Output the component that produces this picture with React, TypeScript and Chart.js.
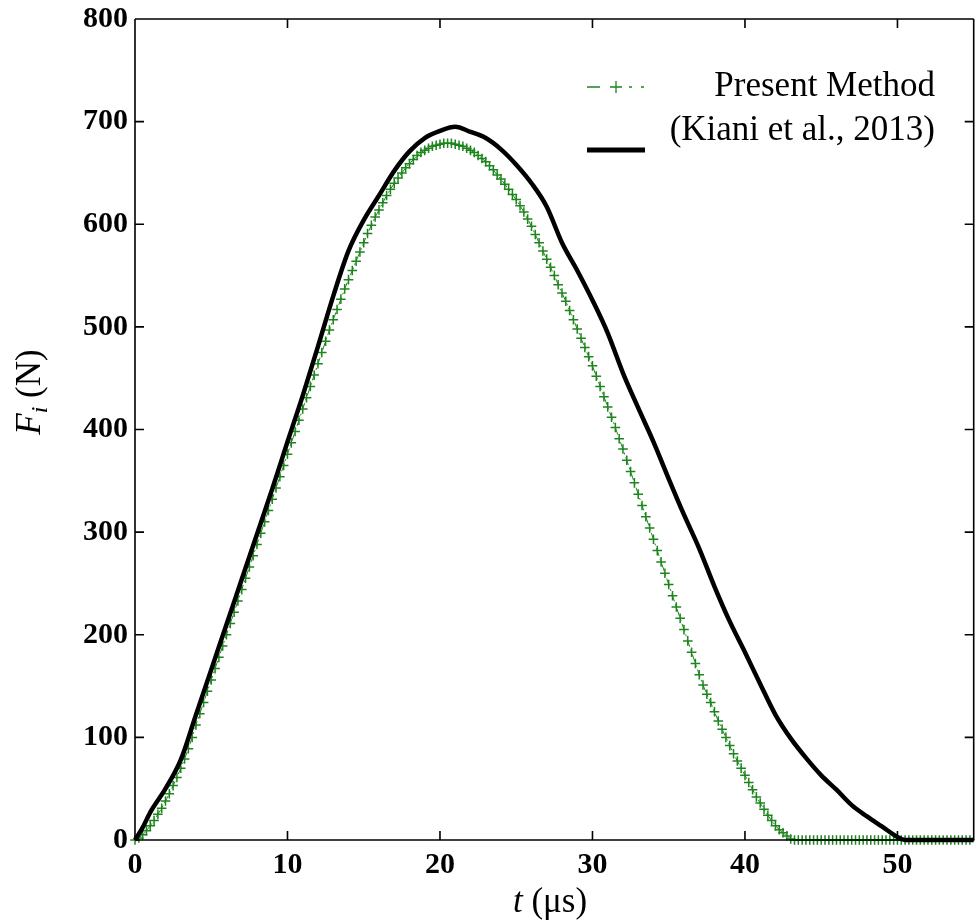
import React, { useEffect, useRef } from "react";
import { Chart, registerables } from "chart.js";

Chart.register(...registerables);

// Present Method (green, dash-dot with + markers)
const presentT = [
  0, 0.25, 0.5, 0.75, 1, 1.25, 1.5, 1.75, 2, 2.25, 2.5, 2.75, 3, 3.25, 3.5, 3.75, 4, 4.25, 4.5, 4.75,
  5, 5.25, 5.5, 5.75, 6, 6.25, 6.5, 6.75, 7, 7.25, 7.5, 7.75, 8, 8.25, 8.5, 8.75, 9, 9.25, 9.5, 9.75,
  10, 10.25, 10.5, 10.75, 11, 11.25, 11.5, 11.75, 12, 12.25, 12.5, 12.75, 13, 13.25, 13.5, 13.75, 14, 14.25, 14.5, 14.75,
  15, 15.25, 15.5, 15.75, 16, 16.25, 16.5, 16.75, 17, 17.25, 17.5, 17.75, 18, 18.25, 18.5, 18.75, 19, 19.25, 19.5, 19.75,
  20, 20.25, 20.5, 20.75, 21, 21.25, 21.5, 21.75, 22, 22.25, 22.5, 22.75, 23, 23.25, 23.5, 23.75, 24, 24.25, 24.5, 24.75,
  25, 25.25, 25.5, 25.75, 26, 26.25, 26.5, 26.75, 27, 27.25, 27.5, 27.75, 28, 28.25, 28.5, 28.75, 29, 29.25, 29.5, 29.75,
  30, 30.25, 30.5, 30.75, 31, 31.25, 31.5, 31.75, 32, 32.25, 32.5, 32.75, 33, 33.25, 33.5, 33.75, 34, 34.25, 34.5, 34.75,
  35, 35.25, 35.5, 35.75, 36, 36.25, 36.5, 36.75, 37, 37.25, 37.5, 37.75, 38, 38.25, 38.5, 38.75, 39, 39.25, 39.5, 39.75,
  40, 40.25, 40.5, 40.75, 41, 41.25, 41.5, 41.75, 42, 42.25, 42.5, 42.75, 43, 43.25, 43.5, 43.75, 44, 44.25, 44.5, 44.75,
  45, 45.25, 45.5, 45.75, 46, 46.25, 46.5, 46.75, 47, 47.25, 47.5, 47.75, 48, 48.25, 48.5, 48.75, 49, 49.25, 49.5, 49.75,
  50, 50.25, 50.5, 50.75, 51, 51.25, 51.5, 51.75, 52, 52.25, 52.5, 52.75, 53, 53.25, 53.5, 53.75, 54, 54.25, 54.5, 54.75,
];
const presentF = [
  0, 2, 5, 9, 14, 19, 25, 31, 38, 45, 53, 61, 70, 79, 89, 100, 112, 123, 134, 145,
  156, 167, 178, 189, 200, 211, 222, 233, 244, 255, 266, 277, 288, 299, 310, 321, 332, 343, 354, 365,
  376, 387, 398, 409, 420, 431, 442, 453, 464, 475, 486, 497, 507, 517, 527, 537, 546, 555, 564, 573,
  582, 591, 599, 607, 614, 621, 628, 634, 640, 645, 650, 655, 659, 663, 667, 670, 672, 674, 676, 677,
  678, 679, 679, 679, 678, 677, 676, 674, 672, 670, 667, 664, 661, 657, 653, 648, 644, 639, 634, 629,
  624, 618, 612, 605, 598, 590, 582, 574, 566, 558, 550, 541, 533, 525, 516, 507, 498, 489, 480, 471,
  462, 452, 442, 432, 422, 412, 402, 391, 381, 370, 359, 348, 337, 326, 315, 304, 293, 282, 271, 260,
  249, 238, 227, 216, 205, 194, 183, 172, 161, 151, 142, 134, 125, 116, 108, 100, 92, 84, 77, 70,
  63, 56, 49, 42, 36, 30, 24, 19, 14, 10, 7, 4, 1, 0, 0, 0, 0, 0, 0, 0,
  0, 0, 0, 0, 0, 0, 0, 0, 0, 0, 0, 0, 0, 0, 0, 0, 0, 0, 0, 0,
  0, 0, 0, 0, 0, 0, 0, 0, 0, 0, 0, 0, 0, 0, 0, 0, 0, 0, 0, 0,
];

// Kiani et al., 2013 (black solid)
const kianiT = [
  0, 0.5, 1, 2, 3, 4, 5, 6, 7, 8, 9, 10, 11, 12, 13, 14, 15, 16, 17, 18, 19,
  20, 21, 22, 23, 24, 25, 26, 27, 28, 29, 30, 31, 32, 33, 34, 35, 36, 37, 38, 39,
  40, 41, 42, 43, 44, 45, 46, 47, 48, 49, 50, 50.5, 52, 55,
];
const kianiF = [
  0, 12, 27, 50, 78, 122, 166, 210, 254, 298, 342, 388, 433, 481, 530, 574, 604, 628, 652, 671, 684,
  691, 695, 690, 684, 673, 658, 640, 617, 582, 555, 526, 494, 455, 421, 388, 352, 317, 284, 247, 213,
  183, 152, 122, 99, 80, 63, 49, 34, 23, 13, 3, 0, 0, 0,
];

const xTickValues = [10, 20, 30, 40, 50];
const yTickValues = [100, 200, 300, 400, 500, 600, 700];
const legendLabels = ["Present Method", "(Kiani et al., 2013)"];
const xTitle = ["t", " (\u03bcs)"];
const yTitle = ["F", "i", " (N)"];

const GREEN = "#1c851c";
const SERIF = '"Liberation Serif", "Times New Roman", serif';

const framePlugin = {
  id: "frame",
  afterDraw(chart: any) {
    const { ctx, chartArea } = chart;
    const { left, right, top, bottom } = chartArea;
    const xs = chart.scales.x;
    const ys = chart.scales.y;
    ctx.save();
    ctx.strokeStyle = "#000";
    ctx.lineWidth = 1.6;
    ctx.setLineDash([]);
    ctx.beginPath();
    ctx.moveTo(left, top);
    ctx.lineTo(left, bottom);
    ctx.moveTo(left, bottom);
    ctx.lineTo(right, bottom);
    ctx.moveTo(left, top);
    ctx.lineTo(right, top);
    ctx.moveTo(right, top);
    ctx.lineTo(right, bottom);
    const tl = 9;
    for (const v of yTickValues) {
      const y = ys.getPixelForValue(v);
      ctx.moveTo(left, y);
      ctx.lineTo(left + tl, y);
      ctx.moveTo(right, y);
      ctx.lineTo(right - tl, y);
    }
    for (const v of xTickValues) {
      const x = xs.getPixelForValue(v);
      ctx.moveTo(x, bottom);
      ctx.lineTo(x, bottom - tl);
      ctx.moveTo(x, top);
      ctx.lineTo(x, top + tl);
    }
    ctx.stroke();

    // Legend samples
    ctx.strokeStyle = GREEN;
    ctx.lineWidth = 1.3;
    ctx.beginPath();
    ctx.moveTo(587, 87);
    ctx.lineTo(600, 87);
    ctx.moveTo(629, 87);
    ctx.lineTo(632, 87);
    ctx.moveTo(641, 87);
    ctx.lineTo(644, 87);
    ctx.moveTo(610, 87);
    ctx.lineTo(622, 87);
    ctx.moveTo(616, 81);
    ctx.lineTo(616, 93);
    ctx.stroke();
    ctx.strokeStyle = "#000";
    ctx.lineWidth = 5;
    ctx.beginPath();
    ctx.moveTo(587, 150);
    ctx.lineTo(645, 150);
    ctx.stroke();

    ctx.fillStyle = "#000";
    ctx.font = `35px ${SERIF}`;
    ctx.textAlign = "right";
    ctx.textBaseline = "middle";
    ctx.fillText(legendLabels[0], 935, 87);
    ctx.fillText(legendLabels[1], 935, 131);

    // X title
    ctx.textAlign = "left";
    ctx.textBaseline = "alphabetic";
    const fs = 35;
    ctx.font = `italic ${fs}px ${SERIF}`;
    const w1 = ctx.measureText(xTitle[0]).width;
    ctx.font = `${fs}px ${SERIF}`;
    const w2 = ctx.measureText(xTitle[1]).width;
    const xc = 550;
    const sx = xc - (w1 + w2) / 2;
    ctx.font = `italic ${fs}px ${SERIF}`;
    ctx.fillText(xTitle[0], sx, 912);
    ctx.font = `${fs}px ${SERIF}`;
    ctx.fillText(xTitle[1], sx + w1, 912);

    // Y title (rotated)
    ctx.save();
    ctx.translate(40, 392);
    ctx.rotate(-Math.PI / 2);
    ctx.font = `italic ${fs}px ${SERIF}`;
    const a = ctx.measureText(yTitle[0]).width;
    ctx.font = `italic 24px ${SERIF}`;
    const b = ctx.measureText(yTitle[1]).width;
    ctx.font = `${fs}px ${SERIF}`;
    const c = ctx.measureText(yTitle[2]).width;
    let px = -(a + b + c) / 2;
    ctx.font = `italic ${fs}px ${SERIF}`;
    ctx.fillText(yTitle[0], px, 0);
    px += a;
    ctx.font = `italic 24px ${SERIF}`;
    ctx.fillText(yTitle[1], px, 7);
    px += b;
    ctx.font = `${fs}px ${SERIF}`;
    ctx.fillText(yTitle[2], px, 0);
    ctx.restore();

    ctx.restore();
  },
};

export default function App() {
  const ref = useRef<HTMLCanvasElement | null>(null);
  useEffect(() => {
    if (!ref.current) return;
    const tickFont = { family: SERIF, size: 30, weight: "bold" as const };
    const chart = new Chart(ref.current, {
      type: "line",
      data: {
        datasets: [
          {
            label: legendLabels[0],
            data: presentT.map((t, i) => ({ x: t, y: presentF[i] })),
            borderColor: GREEN,
            borderWidth: 1,
            borderDash: [8, 3, 2, 3],
            pointStyle: "cross",
            pointRadius: 4.8,
            pointBorderWidth: 1.5,
            pointBorderColor: GREEN,
            pointBackgroundColor: GREEN,
            tension: 0,
            clip: false as any,
            order: 2,
          },
          {
            label: legendLabels[1],
            data: kianiT.map((t, i) => ({ x: t, y: kianiF[i] })),
            borderColor: "#000",
            borderWidth: 4.5,
            pointRadius: 0,
            cubicInterpolationMode: "monotone",
            clip: false as any,
            order: 1,
          },
        ],
      },
      options: {
        responsive: false,
        animation: false,
        layout: { padding: { top: 19, right: 2, left: 0, bottom: 0 } },
        plugins: { legend: { display: false }, tooltip: { enabled: false } },
        scales: {
          x: {
            type: "linear",
            min: 0,
            max: 55,
            afterFit: (s: any) => {
              s.height = 84;
              s.paddingLeft = 0;
              s.paddingRight = 0;
            },
            grid: { display: false, drawTicks: false },
            border: { display: false },
            ticks: {
              stepSize: 10,
              includeBounds: false,
              padding: 7,
              color: "#000",
              font: tickFont,
              maxRotation: 0,
              autoSkip: false,
            },
          },
          y: {
            type: "linear",
            min: 0,
            max: 800,
            afterFit: (s: any) => {
              s.width = 135;
              s.paddingTop = 0;
              s.paddingBottom = 0;
            },
            grid: { display: false, drawTicks: false },
            border: { display: false },
            ticks: {
              stepSize: 100,
              padding: 7,
              color: "#000",
              font: tickFont,
              autoSkip: false,
            },
          },
        },
      },
      plugins: [framePlugin],
    });
    return () => chart.destroy();
  }, []);
  return (
    <div
      style={{
        position: "absolute",
        left: 0,
        top: 0,
        width: 975,
        height: 924,
        overflow: "hidden",
        background: "#fff",
      }}
    >
      <canvas ref={ref} width={980} height={924} style={{ display: "block" }} />
    </div>
  );
}
